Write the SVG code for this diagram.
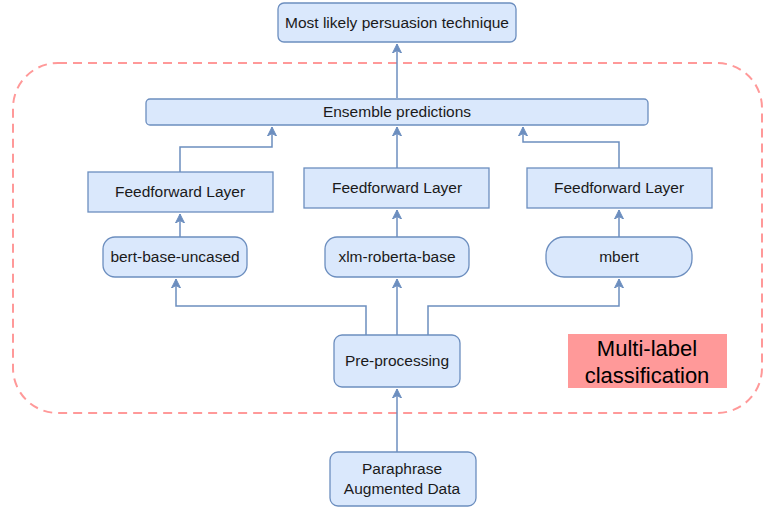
<svg xmlns="http://www.w3.org/2000/svg" width="764" height="508" viewBox="0 0 764 508">
<defs>
<marker id="arr" markerWidth="10" markerHeight="10" refX="9" refY="5" orient="auto" markerUnits="userSpaceOnUse">
<path d="M0,0.5 L9,5 L0,9.5 L2.5,5 Z" fill="#6c8ebf" stroke="#6c8ebf" stroke-width="1"/>
</marker>
<style>
.n{fill:#dae8fc;stroke:#6c8ebf;stroke-width:1.3}
.t{font-family:"Liberation Sans",Arial,sans-serif;font-size:15.5px;fill:#1a1a1a;text-anchor:middle}
.c{fill:none;stroke:#6c8ebf;stroke-width:1.5;marker-end:url(#arr)}
.L{font-family:"Liberation Sans",Arial,sans-serif;font-size:22px;fill:#000;text-anchor:middle}
</style>
</defs>
<rect width="764" height="508" fill="#ffffff"/>
<g id="container">
<rect x="13" y="63" width="749" height="350" rx="45" fill="none" stroke="#ff9999" stroke-width="2" stroke-dasharray="9 6"/>
</g>
<g id="connectors">
<path class="c" d="M397,98 V44"/>
<path class="c" d="M180,172 V147 H272 V127"/>
<path class="c" d="M397,168 V127"/>
<path class="c" d="M619,168 V142 H523 V127"/>
<path class="c" d="M180,237 V214"/>
<path class="c" d="M397,237 V210"/>
<path class="c" d="M619,237 V210"/>
<path class="c" d="M366,335 V306 H176 V279"/>
<path class="c" d="M397,335 V279"/>
<path class="c" d="M428,335 V306 H619 V279"/>
<path class="c" d="M397,452 V389"/>
</g>
<g id="top">
<rect class="n" x="278" y="3" width="238" height="39" rx="6"/>
<text class="t" x="397" y="28">Most likely persuasion technique</text>
</g>
<g id="ensemble">
<rect class="n" x="146" y="99" width="502" height="26" rx="4"/>
<text class="t" x="397" y="117">Ensemble predictions</text>
</g>
<g id="ff1">
<rect class="n" x="88" y="172" width="185" height="40"/>
<text class="t" x="180" y="197">Feedforward Layer</text>
</g>
<g id="ff2">
<rect class="n" x="304" y="168" width="185" height="40"/>
<text class="t" x="397" y="193">Feedforward Layer</text>
</g>
<g id="ff3">
<rect class="n" x="527" y="168" width="185" height="40"/>
<text class="t" x="619" y="193">Feedforward Layer</text>
</g>
<g id="bert">
<rect class="n" x="103" y="237" width="144" height="40" rx="12"/>
<text class="t" x="175" y="262">bert-base-uncased</text>
</g>
<g id="xlmr">
<rect class="n" x="325" y="237" width="144" height="40" rx="12"/>
<text class="t" x="397" y="262">xlm-roberta-base</text>
</g>
<g id="mbert">
<rect class="n" x="546" y="237" width="146" height="40" rx="18"/>
<text class="t" x="619" y="262">mbert</text>
</g>
<g id="preproc">
<rect class="n" x="334" y="335" width="126" height="52" rx="8"/>
<text class="t" x="397" y="366">Pre-processing</text>
</g>
<g id="data">
<rect class="n" x="330" y="452" width="146" height="54" rx="8"/>
<text class="t" x="402" y="474">Paraphrase</text>
<text class="t" x="402" y="494">Augmented Data</text>
</g>
<g id="label">
<rect x="568" y="334" width="159" height="54" fill="#ff9999"/>
<text class="L" x="647" y="356">Multi-label</text>
<text class="L" x="647" y="383">classification</text>
</g>
</svg>
